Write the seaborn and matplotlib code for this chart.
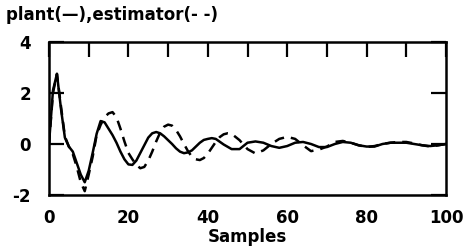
import numpy as np
import pandas as pd
import matplotlib
matplotlib.use("Agg")
import matplotlib.pyplot as plt
import seaborn as sns

# ---- data ----
plant_x = list(range(0, 42)) + list(range(42, 101, 2))
plant_y = [0.0, 2.1, 2.75, 1.4, 0.25, -0.1, -0.3, -0.75, -1.2, -1.5,
           -1.05, -0.35, 0.4, 0.9, 0.85, 0.6, 0.35, 0.05, -0.3, -0.6,
           -0.8, -0.82, -0.65, -0.35, -0.05, 0.25, 0.42, 0.47, 0.42, 0.3,
           0.15, 0.0, -0.17, -0.3, -0.36, -0.33, -0.25, -0.1, 0.05, 0.16,
           0.2, 0.23,
           0.2, -0.02, -0.2, -0.2, 0.05, 0.1, 0.05, -0.08, -0.15, -0.08,
           0.05, 0.08, 0.0, -0.12, -0.12, 0.0, 0.08, 0.05, -0.05, -0.1,
           -0.1, 0.0, 0.05, 0.05, 0.05, 0.0, -0.05, -0.08, -0.05, 0.0]

est_x = list(range(0, 47)) + list(range(48, 101, 2))
est_y = [0.0, 2.0, 2.75, 1.5, 0.3, -0.1, -0.4, -0.9, -1.5, -1.85,
         -1.2, -0.5, 0.35, 0.75, 1.05, 1.2, 1.25, 1.05, 0.6, 0.1,
         -0.35, -0.6, -0.82, -0.95, -0.9, -0.65, -0.3, 0.1, 0.45, 0.68,
         0.76, 0.72, 0.55, 0.3, 0.0, -0.28, -0.5, -0.6, -0.63, -0.55,
         -0.38, -0.15, 0.08, 0.27, 0.38, 0.42, 0.4,
         0.15, -0.2, -0.37, -0.25, 0.0, 0.2, 0.28, 0.2, -0.05, -0.28,
         -0.22, -0.1, 0.08, 0.12, 0.05, -0.05, -0.12, -0.08, 0.0, 0.05,
         0.08, 0.08, 0.02, -0.05, -0.1, -0.05, 0.0]

x_ticks = [0, 20, 40, 60, 80, 100]
x_minor = [10, 30, 50, 70, 90]
y_ticks = [-2, 0, 2, 4]

title = "plant(\u2014),estimator(- -)"
xlabel = "Samples"

# ---- figure ----
sns.set_theme(style="white")
plt.rcParams['font.family'] = ['DejaVu Sans']
plt.rcParams['text.color'] = 'black'
plt.rcParams['xtick.color'] = 'black'
plt.rcParams['ytick.color'] = 'black'
plt.rcParams['axes.labelcolor'] = 'black'

fig = plt.figure(figsize=(4.65, 2.5), dpi=100)
ax = fig.add_axes([49/465, 1-195/250, (446-49)/465, (195-42)/250])

plant = pd.DataFrame({"x": plant_x, "y": plant_y})
est = pd.DataFrame({"x": est_x, "y": est_y})
sns.lineplot(data=plant, x="x", y="y", ax=ax, color="black", lw=1.8)
sns.lineplot(data=est, x="x", y="y", ax=ax, color="black", lw=1.8,
             linestyle=(0, (4, 2.8)))

ax.set_xlim(0, 100)
ax.set_ylim(-2, 4)
ax.set_xticks(x_ticks)
ax.set_xticks(x_minor, minor=True)
ax.set_yticks(y_ticks)
ax.set_xticklabels([str(t) for t in x_ticks], fontsize=12, fontweight='bold')
ax.set_yticklabels([str(t) for t in y_ticks], fontsize=12, fontweight='bold')
ax.tick_params(axis='both', which='both', direction='in', length=11,
               width=1.6, color='black', top=True, right=True)
ax.tick_params(axis='x', which='major', pad=10)
ax.tick_params(axis='y', which='major', left=True, right=True, pad=13)
ax.set_xlabel(xlabel, fontsize=12, fontweight='bold', labelpad=1)
ax.set_ylabel("")
for s in ax.spines.values():
    s.set_visible(True)
    s.set_color('black')
    s.set_linewidth(1.8)

fig.text(6/465, 1-15/250, title, fontsize=12, fontweight='bold',
         ha='left', va='center', color='black')

fig.savefig("out.png", dpi=100)
